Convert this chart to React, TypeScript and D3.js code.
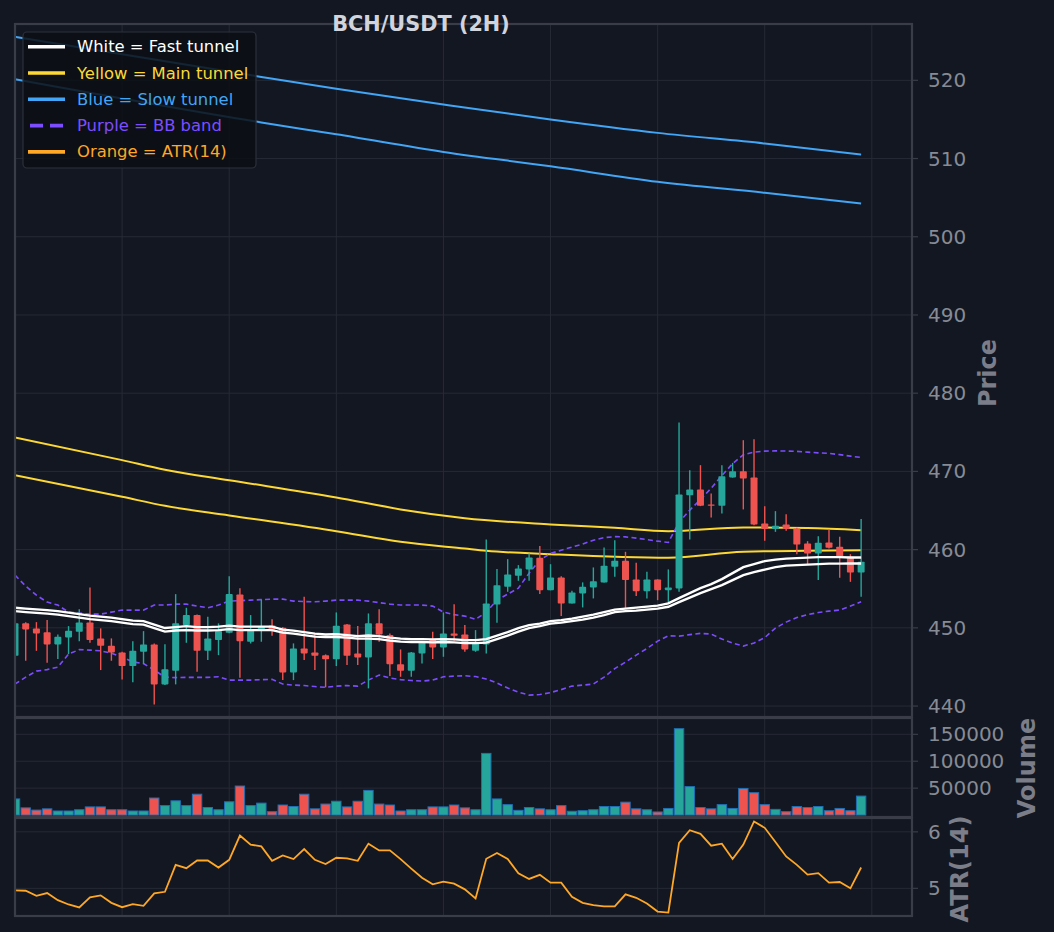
import React, { useEffect, useRef } from 'react';
import * as d3 from 'd3';

// ---- data (index = candle number, 2H bars) ----
const opens = [
  446.43, 450.57, 449.93, 449.42, 447.88, 448.78, 449.49, 450.69, 448.65, 447.70,
  446.86, 445.11, 446.94, 447.88, 442.77, 444.51, 450.35, 451.63, 447.06, 448.43,
  449.36, 454.27, 448.22, 449.60, 450.30, 450.00, 444.30, 447.37, 446.86, 446.51,
  445.97, 450.44, 446.73, 446.22, 450.57, 449.07, 445.33, 444.51, 446.73, 448.43,
  447.50, 449.29, 449.16, 447.06, 447.88, 452.99, 455.24, 456.65, 457.47, 458.95,
  454.82, 456.45, 453.12, 454.40, 455.17, 455.81, 457.80, 458.57, 456.19, 454.69,
  456.19, 454.82, 455.04, 466.96, 467.69, 465.77, 465.60, 469.23, 470.03, 469.23,
  463.35, 462.62, 463.22, 462.71, 460.79, 459.51, 460.92, 460.36, 459.08, 457.08,
];
const highs = [
  450.80, 450.70, 450.73, 450.99, 449.16, 450.22, 452.39, 455.17, 449.93, 448.65,
  446.94, 448.30, 449.58, 448.00, 447.90, 454.31, 452.56, 451.70, 451.41, 450.57,
  456.61, 455.06, 451.63, 453.63, 451.10, 450.10, 448.01, 453.97, 449.29, 446.60,
  451.97, 450.50, 450.22, 451.84, 452.36, 449.29, 447.24, 446.90, 448.10, 449.49,
  451.97, 453.03, 450.35, 449.71, 461.30, 457.51, 458.78, 458.02, 459.51, 460.45,
  458.14, 456.61, 454.73, 455.81, 457.72, 460.28, 461.21, 459.72, 458.31, 457.16,
  456.20, 457.47, 476.25, 470.16, 470.80, 467.18, 470.80, 471.09, 473.99, 474.12,
  465.56, 464.92, 464.53, 462.80, 461.08, 461.72, 462.58, 461.63, 459.42, 463.90,
];
const lows = [
  446.20, 445.79, 447.06, 445.53, 446.00, 446.64, 448.30, 448.09, 444.60, 445.79,
  443.41, 443.03, 445.36, 440.21, 442.70, 442.77, 448.09, 444.38, 445.88, 446.51,
  449.30, 443.61, 448.00, 448.22, 449.00, 443.32, 443.32, 445.88, 444.60, 442.39,
  445.11, 445.24, 445.24, 442.26, 448.22, 443.83, 443.74, 443.74, 445.45, 446.00,
  446.30, 448.34, 446.94, 446.94, 446.73, 450.64, 454.61, 456.01, 456.01, 454.31,
  454.80, 451.50, 453.10, 452.61, 453.76, 455.80, 456.52, 452.48, 454.06, 453.76,
  453.54, 453.12, 454.61, 461.30, 465.56, 464.11, 464.62, 469.20, 465.14, 463.13,
  461.12, 462.27, 462.40, 459.42, 458.11, 456.10, 460.15, 456.39, 455.88, 453.97,
];
const closes = [
  450.57, 449.80, 449.29, 447.88, 448.85, 449.62, 450.69, 448.43, 447.70, 446.86,
  445.11, 447.06, 447.88, 442.77, 444.69, 450.57, 451.63, 447.06, 448.65, 449.58,
  454.31, 448.30, 449.80, 450.20, 449.80, 444.30, 447.37, 446.73, 446.43, 445.97,
  450.26, 446.43, 446.22, 450.57, 449.16, 445.36, 444.51, 446.86, 448.09, 447.50,
  449.29, 448.98, 447.24, 448.01, 453.12, 455.46, 456.83, 457.60, 459.00, 454.82,
  456.45, 453.12, 454.53, 455.24, 455.97, 457.93, 458.57, 456.10, 454.69, 456.19,
  454.82, 455.17, 467.05, 467.69, 465.60, 465.65, 469.39, 470.03, 469.10, 463.22,
  462.62, 463.04, 462.62, 460.66, 459.51, 460.87, 460.23, 459.08, 457.08, 458.44,
];
const volumes = [
  30000, 13400, 9300, 11600, 7600, 7600, 9900, 15200, 15200, 9900,
  9900, 7600, 7600, 31700, 17600, 26500, 17600, 38800, 14100, 9900,
  24700, 54000, 17600, 22200, 6300, 18700, 15900, 38800, 11600, 20500,
  25700, 15200, 25700, 45900, 20500, 18700, 7600, 9900, 9900, 15200,
  15200, 18700, 13400, 9900, 114600, 30000, 19400, 8800, 14100, 11600,
  9900, 17600, 7100, 8100, 9900, 15900, 15900, 24000, 11600, 9900,
  5800, 12300, 160500, 52900, 14100, 11600, 19400, 12300, 49400, 41600,
  19400, 10600, 6300, 15900, 14100, 15900, 8100, 12300, 8100, 35300,
];
const atr14 = [
  4.964, 4.957, 4.868, 4.916, 4.791, 4.714, 4.661, 4.839, 4.875, 4.743,
  4.666, 4.720, 4.689, 4.911, 4.939, 5.416, 5.357, 5.493, 5.493, 5.368,
  5.505, 5.934, 5.773, 5.743, 5.488, 5.582, 5.518, 5.696, 5.505, 5.429,
  5.541, 5.529, 5.488, 5.791, 5.671, 5.671, 5.518, 5.350, 5.189, 5.071,
  5.118, 5.082, 4.982, 4.821, 5.523, 5.625, 5.518, 5.268, 5.166, 5.238,
  5.100, 5.100, 4.850, 4.743, 4.702, 4.679, 4.679, 4.893, 4.832, 4.732,
  4.589, 4.571, 5.804, 6.029, 5.964, 5.755, 5.791, 5.518, 5.773, 6.184,
  6.071, 5.821, 5.564, 5.416, 5.243, 5.268, 5.100, 5.112, 5.000, 5.368,
];
const fastUpper = [
  452.56, 452.46, 452.36, 452.27, 452.14, 451.95, 451.75, 451.56, 451.43, 451.31,
  451.12, 450.92, 450.86, 450.41, 449.97, 450.09, 450.22, 450.09, 450.09, 450.16,
  450.28, 450.16, 450.16, 450.16, 450.16, 449.77, 449.65, 449.45, 449.26, 449.14,
  449.20, 449.07, 448.94, 449.01, 448.94, 448.75, 448.62, 448.56, 448.56, 448.52,
  448.56, 448.52, 448.43, 448.43, 448.56, 449.01, 449.45, 449.97, 450.35, 450.54,
  450.86, 450.99, 451.18, 451.43, 451.69, 452.01, 452.33, 452.46, 452.59, 452.71,
  452.84, 453.12, 453.80, 454.44, 455.08, 455.59, 456.23, 457.00, 457.76, 458.15,
  458.53, 458.72, 458.85, 458.91, 458.98, 459.04, 459.04, 459.04, 459.00, 459.00,
];
const fastLower = [
  452.14, 452.01, 451.91, 451.82, 451.69, 451.50, 451.31, 451.12, 450.99, 450.86,
  450.67, 450.48, 450.41, 449.97, 449.52, 449.65, 449.71, 449.65, 449.65, 449.71,
  449.84, 449.71, 449.71, 449.71, 449.71, 449.39, 449.26, 449.07, 448.88, 448.82,
  448.82, 448.75, 448.62, 448.62, 448.56, 448.37, 448.24, 448.18, 448.18, 448.14,
  448.18, 448.14, 448.05, 448.05, 448.11, 448.56, 449.01, 449.52, 449.97, 450.22,
  450.54, 450.67, 450.86, 451.05, 451.31, 451.63, 452.01, 452.14, 452.20, 452.33,
  452.46, 452.69, 453.29, 453.86, 454.44, 454.95, 455.46, 456.10, 456.74, 457.12,
  457.44, 457.76, 457.95, 458.02, 458.08, 458.14, 458.21, 458.21, 458.23, 458.23,
];
const bbUpper = [
  456.74, 455.33, 454.18, 453.29, 452.91, 452.01, 451.88, 451.75, 451.75, 452.01,
  452.27, 452.27, 452.27, 452.91, 452.91, 453.03, 453.03, 452.78, 452.56, 452.91,
  453.42, 453.48, 453.54, 453.61, 453.67, 453.67, 453.42, 453.35, 453.33, 453.42,
  453.54, 453.54, 453.54, 453.42, 453.22, 453.03, 452.91, 452.91, 452.91, 452.78,
  452.01, 451.69, 451.50, 451.08, 452.01, 453.54, 454.31, 455.08, 456.99, 458.66,
  459.51, 459.93, 460.32, 460.70, 461.21, 461.53, 461.66, 461.63, 461.47, 461.28,
  461.08, 460.92, 463.51, 465.05, 466.39, 467.86, 469.46, 470.99, 472.14, 472.46,
  472.59, 472.62, 472.61, 472.56, 472.46, 472.37, 472.30, 472.14, 471.95, 471.78,
];
const bbLower = [
  442.81, 443.70, 444.47, 444.66, 444.98, 446.64, 447.22, 447.15, 447.06, 446.77,
  446.26, 445.66, 445.43, 444.60, 443.70, 443.64, 443.67, 443.67, 443.67, 443.74,
  443.32, 443.32, 443.32, 443.38, 443.41, 442.81, 442.68, 442.62, 442.49, 442.39,
  442.55, 442.62, 442.55, 443.32, 443.96, 443.58, 443.38, 443.26, 443.19, 443.32,
  443.74, 443.83, 443.87, 443.77, 443.45, 442.94, 442.30, 441.79, 441.40, 441.47,
  441.72, 442.10, 442.55, 442.68, 442.81, 443.70, 444.79, 445.62, 446.52, 447.35,
  448.30, 448.98, 448.94, 449.13, 449.29, 449.20, 448.56, 448.05, 447.67, 448.05,
  448.75, 449.97, 450.73, 451.31, 451.69, 451.95, 452.14, 452.27, 452.78, 453.33,
];
// slower tunnels, read at a few candles: [index, price]
const mainUpper: [number, number][] = [
  [0, 474.34], [10, 471.44], [14, 470.22], [20, 468.88], [30, 466.67], [36, 465.14],
  [42, 464.02], [50, 463.22], [56, 462.78], [61, 462.36], [68, 462.84], [74, 462.75], [79, 462.49],
];
const mainLower: [number, number][] = [
  [0, 469.52], [10, 466.75], [14, 465.60], [20, 464.37], [30, 462.36], [36, 461.00],
  [42, 460.13], [44, 459.85], [50, 459.42], [61, 458.95], [68, 459.72], [79, 459.93],
];
const slowUpper: [number, number][] = [
  [0, 525.56], [23, 520.43], [30, 518.93], [40, 516.91], [50, 514.99], [60, 513.28], [70, 511.92], [79, 510.50],
];
const slowLower: [number, number][] = [
  [0, 520.13], [23, 514.61], [30, 513.10], [40, 510.84], [50, 509.01], [60, 507.03], [70, 505.62], [79, 504.24],
];

const priceTicks = [440, 450, 460, 470, 480, 490, 500, 510, 520];
const volumeTicks = [50000, 100000, 150000];
const atrTicks = [5, 6];
const xGridTicks = [10, 20, 30, 40, 50, 60, 70, 80];

const legendItems = [
  { label: 'White = Fast tunnel', color: '#ffffff', dash: false },
  { label: 'Yellow = Main tunnel', color: '#fdd835', dash: false },
  { label: 'Blue = Slow tunnel', color: '#42a5f5', dash: false },
  { label: 'Purple = BB band', color: '#7c4dff', dash: true },
  { label: 'Orange = ATR(14)', color: '#ffa726', dash: false },
];

const BG = '#131722';
const GRID = '#262a35';
const SPINE = '#393d48';
const TICK_TEXT = '#878b94';
const LABEL_TEXT = '#7b7e88';
const UP = '#26a69a';
const DOWN = '#ef5350';
const FONT = '"DejaVu Sans", sans-serif';

const LEFT = 15;
const RIGHT = 912;

const App: React.FC = () => {
  const svgRef = useRef<SVGSVGElement>(null);

  useEffect(() => {
    document.body.style.margin = '0';
    document.body.style.background = BG;
    if (!svgRef.current) return;

    const svg = d3.select(svgRef.current);
    svg.selectAll('*').remove();

    svg.append('rect').attr('width', 1054).attr('height', 932).attr('fill', BG);

    const x = d3.scaleLinear().domain([0, 83.75]).range([LEFT, RIGHT]);
    const yPrice = d3.scaleLinear().domain([438.6, 527.2]).range([717, 24]);
    const yVol = d3.scaleLinear().domain([-3571, 180357]).range([817, 718]);
    const yAtr = d3.scaleLinear().domain([4.51, 6.245]).range([916, 818]);

    const panels = [
      { id: 'price', top: 24, bottom: 717, y: yPrice, ticks: priceTicks },
      { id: 'vol', top: 718, bottom: 817, y: yVol, ticks: volumeTicks },
      { id: 'atr', top: 818, bottom: 916, y: yAtr, ticks: atrTicks },
    ];

    const defs = svg.append('defs');
    panels.forEach(p => {
      defs.append('clipPath').attr('id', `clip-${p.id}`)
        .append('rect')
        .attr('x', LEFT).attr('y', p.top)
        .attr('width', RIGHT - LEFT).attr('height', p.bottom - p.top);
    });

    // grid
    panels.forEach(p => {
      const g = svg.append('g').attr('clip-path', `url(#clip-${p.id})`);
      g.selectAll('line.v').data(xGridTicks).enter().append('line')
        .attr('x1', d => x(d)).attr('x2', d => x(d))
        .attr('y1', p.top).attr('y2', p.bottom)
        .attr('stroke', GRID).attr('stroke-width', 1);
      g.selectAll('line.h').data(p.ticks).enter().append('line')
        .attr('x1', LEFT).attr('x2', RIGHT)
        .attr('y1', d => p.y(d)).attr('y2', d => p.y(d))
        .attr('stroke', GRID).attr('stroke-width', 1);
    });

    const idx = d3.range(opens.length);

    // ---- price panel ----
    const main = svg.append('g').attr('clip-path', 'url(#clip-price)');

    const seriesLine = d3.line<number>().x((_, i) => x(i)).y(d => yPrice(d));
    const pairLine = d3.line<[number, number]>()
      .x(d => x(d[0])).y(d => yPrice(d[1]))
      .curve(d3.curveMonotoneX);

    [slowUpper, slowLower].forEach(s => {
      main.append('path').attr('d', pairLine(s)!)
        .attr('fill', 'none').attr('stroke', '#42a5f5').attr('stroke-width', 2);
    });
    [mainUpper, mainLower].forEach(s => {
      main.append('path').attr('d', pairLine(s)!)
        .attr('fill', 'none').attr('stroke', '#fdd835').attr('stroke-width', 2);
    });
    [bbUpper, bbLower].forEach(s => {
      main.append('path').attr('d', seriesLine(s)!)
        .attr('fill', 'none').attr('stroke', '#7c4dff').attr('stroke-width', 1.6)
        .attr('stroke-dasharray', '5,3.3');
    });

    // candles
    const candleW = 7;
    main.append('g').selectAll('line').data(idx).enter().append('line')
      .attr('x1', i => x(i)).attr('x2', i => x(i))
      .attr('y1', i => yPrice(highs[i])).attr('y2', i => yPrice(lows[i]))
      .attr('stroke', i => closes[i] >= opens[i] ? UP : DOWN)
      .attr('stroke-width', 1.4);
    main.append('g').selectAll('rect').data(idx).enter().append('rect')
      .attr('x', i => x(i) - candleW / 2)
      .attr('y', i => yPrice(Math.max(opens[i], closes[i])))
      .attr('width', candleW)
      .attr('height', i => Math.max(1.2, Math.abs(yPrice(opens[i]) - yPrice(closes[i]))))
      .attr('fill', i => closes[i] >= opens[i] ? UP : DOWN)
      .attr('rx', 0.8);

    [fastUpper, fastLower].forEach(s => {
      main.append('path').attr('d', seriesLine(s)!)
        .attr('fill', 'none').attr('stroke', '#ffffff').attr('stroke-width', 2.4);
    });

    // ---- volume panel ----
    const vol = svg.append('g').attr('clip-path', 'url(#clip-vol)');
    const barW = 9.4;
    vol.selectAll('rect').data(idx).enter().append('rect')
      .attr('x', i => x(i) - barW / 2)
      .attr('y', i => yVol(volumes[i]))
      .attr('width', barW)
      .attr('height', i => yVol(0) - yVol(volumes[i]))
      .attr('fill', i => closes[i] >= opens[i] ? UP : DOWN)
      .attr('stroke', '#1f6fb4')
      .attr('stroke-width', 1);

    // ---- ATR panel ----
    const atrG = svg.append('g').attr('clip-path', 'url(#clip-atr)');
    const atrLine = d3.line<number>().x((_, i) => x(i)).y(d => yAtr(d));
    atrG.append('path').attr('d', atrLine(atr14)!)
      .attr('fill', 'none').attr('stroke', '#ffa726').attr('stroke-width', 1.8);

    // spines + right ticks
    panels.forEach(p => {
      svg.append('rect')
        .attr('x', LEFT).attr('y', p.top)
        .attr('width', RIGHT - LEFT).attr('height', p.bottom - p.top)
        .attr('fill', 'none').attr('stroke', SPINE).attr('stroke-width', 2.2);
      const t = svg.append('g');
      t.selectAll('line').data(p.ticks).enter().append('line')
        .attr('x1', RIGHT).attr('x2', RIGHT + 6)
        .attr('y1', d => p.y(d)).attr('y2', d => p.y(d))
        .attr('stroke', SPINE).attr('stroke-width', 1.2);
      t.selectAll('text').data(p.ticks).enter().append('text')
        .attr('x', RIGHT + 16).attr('y', d => p.y(d))
        .attr('dominant-baseline', 'central')
        .attr('font-family', FONT).attr('font-size', 20)
        .attr('fill', TICK_TEXT)
        .text(d => String(d));
    });

    // axis labels
    const axisLabels = [
      { text: 'Price', x: 988, y: 373 },
      { text: 'Volume', x: 1027, y: 768 },
      { text: 'ATR(14)', x: 960, y: 869 },
    ];
    axisLabels.forEach(l => {
      svg.append('text')
        .attr('transform', `translate(${l.x},${l.y}) rotate(-90)`)
        .attr('text-anchor', 'middle').attr('dominant-baseline', 'central')
        .attr('font-family', FONT).attr('font-size', 24).attr('font-weight', 'bold')
        .attr('fill', LABEL_TEXT)
        .text(l.text);
    });

    // title
    svg.append('text')
      .attr('x', 421).attr('y', 31)
      .attr('text-anchor', 'middle')
      .attr('font-family', FONT).attr('font-size', 20.8).attr('font-weight', 'bold')
      .attr('fill', '#d1d4dc')
      .text('BCH/USDT (2H)');

    // legend
    const lg = svg.append('g');
    lg.append('rect')
      .attr('x', 23).attr('y', 32).attr('width', 233).attr('height', 136).attr('rx', 4)
      .attr('fill', '#0c0f15').attr('fill-opacity', 0.86)
      .attr('stroke', '#2c303b').attr('stroke-width', 1.2);
    legendItems.forEach((item, k) => {
      const cy = 46.7 + k * 26.3;
      lg.append('line')
        .attr('x1', 28).attr('x2', 65).attr('y1', cy).attr('y2', cy)
        .attr('stroke', item.color).attr('stroke-width', 3.6)
        .attr('stroke-dasharray', item.dash ? '13,7' : null)
        .attr('stroke-dashoffset', item.dash ? -2 : null);
      lg.append('text')
        .attr('x', 77).attr('y', cy)
        .attr('dominant-baseline', 'central')
        .attr('font-family', FONT).attr('font-size', 16.4)
        .attr('fill', item.color)
        .text(item.label);
    });
  }, []);

  return <svg ref={svgRef} width={1054} height={932} style={{ display: 'block' }} />;
};

export default App;
